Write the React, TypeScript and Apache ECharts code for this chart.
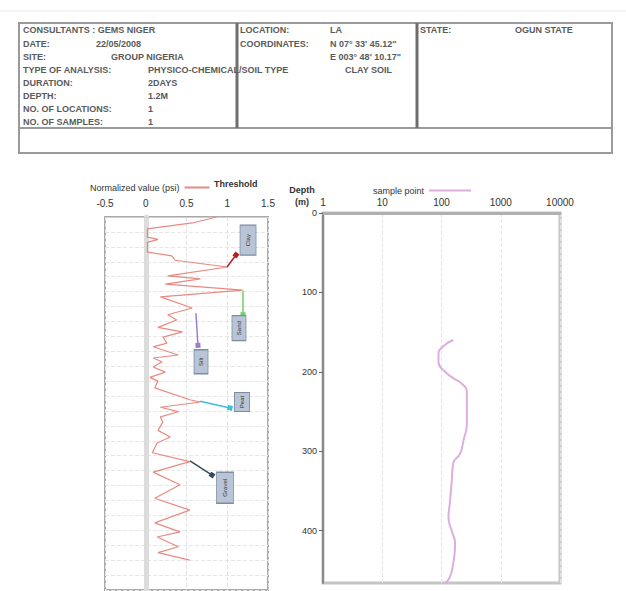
import React, { useEffect, useRef } from "react";
import * as echarts from "echarts";

// ---- left track: normalized signal vs depth ----
const leftValues = [
  0.87, 0.57, 0.02, 0.02, 0.15, 0.02, 0.02, 0.32, 0.36, 1.0, 0.27, 0.67, 0.24, 1.19, 0.18,
  0.57, 0.27, 0.38, 0.15, 0.45, 0.21, 0.26, 0.09, 0.4, 0.09, 0.2, 0.09, 0.24, 0.05, 0.15,
  0.11, 0.54, 0.67, 0.18, 0.4, 0.18, 0.21, 0.15, 0.3, 0.14, 0.08, 0.54, 0.09, 0.42, 0.11,
  0.54, 0.11, 0.42, 0.14, 0.4, 0.15, 0.54,
];
const leftDepths = [
  0.0, 0.08, 0.16, 0.27, 0.3, 0.34, 0.47, 0.52, 0.58, 0.67, 0.79, 0.83, 0.9, 0.98, 1.07,
  1.22, 1.31, 1.38, 1.48, 1.54, 1.61, 1.69, 1.74, 1.85, 1.89, 1.94, 2.01, 2.08, 2.15, 2.2,
  2.29, 2.45, 2.48, 2.55, 2.61, 2.68, 2.75, 2.86, 2.95, 3.03, 3.16, 3.28, 3.42, 3.59, 3.77,
  3.93, 4.1, 4.22, 4.29, 4.42, 4.5, 4.6,
];
const leftTicks = [-0.5, 0, 0.5, 1, 1.5];

// annotations (boxes + arrows) in data coordinates of the left track
const boxLabels = ["Clay", "Sand", "Silt", "Peat", "Gravel"];
const boxValues = [1.255, 1.144, 0.678, 1.181, 0.972];
const boxDepths = [0.31, 1.49, 1.94, 2.48, 3.63];
const arrowFromValues = [0.997, 1.193, 0.616, 0.666, 0.543];
const arrowFromDepths = [0.67, 0.99, 1.29, 2.47, 3.27];
const arrowToValues = [1.107, 1.193, 0.641, 1.034, 0.813];
const arrowToDepths = [0.51, 1.31, 1.72, 2.56, 3.46];

// ---- right track: sample point (log) vs depth ----
const rightValues = [158, 115, 89, 89, 115, 158, 220, 268, 268, 268, 236, 206, 158, 148, 138, 131, 148, 170, 158, 138, 115];
const rightDepths = [160, 166, 177, 188, 200, 208, 215, 225, 244, 265, 286, 303, 315, 340, 366, 383, 400, 416, 441, 459, 466];
const rightTicks = [1, 10, 100, 1000, 10000];
const depthTicks = [0, 100, 200, 300, 400];
const depthAxisTitle = ["Depth", "(m)"];

// ---- header table texts ----
const headerLeftLabels = ["CONSULTANTS : GEMS NIGER", "DATE:", "SITE:", "TYPE OF ANALYSIS:", "DURATION:", "DEPTH:", "NO. OF LOCATIONS:", "NO. OF SAMPLES:"];
const headerLeftValues = ["", "22/05/2008", "GROUP NIGERIA", "PHYSICO-CHEMICAL/SOIL TYPE", "2DAYS", "1.2M", "1", "1"];
const headerMidLabels = ["LOCATION:", "COORDINATES:", "", "", "", "", "", ""];
const headerMidValues = ["LA", "N 07° 33' 45.12\"", "E 003° 48' 10.17\"", "CLAY SOIL", "", "", "", ""];
const headerStateLabel = "STATE:";
const headerStateValue = "OGUN STATE";

// styles
const boxSizes = [[16, 30], [14, 25], [14, 24], [15, 19], [17, 31]];
const arrowColors = ["#b22222", "#6fcf6f", "#9a7fd0", "#3fbfdf", "#34495e"];
const headColors = ["#8b1010", "#4caf50", "#4b2a7a", "#2aa7c9", "#22303f"];

const FONT = "Liberation Sans, Arial, sans-serif";

export default function App() {
  const ref = useRef<HTMLDivElement>(null);
  useEffect(() => {
    const chart = echarts.init(ref.current as HTMLDivElement, null, { renderer: "svg" });

    const rowY = [30, 44, 57, 70, 83, 96, 109, 122];
    const leftValueX = [0, 96, 111, 148, 148, 148, 148, 148];
    const midValueX = [330, 330, 330, 345, 0, 0, 0, 0];
    const txt = (x: number, y: number, text: string) => ({
      type: "text",
      x,
      y,
      style: { text, fill: "#5a5a5a", font: `bold 9px ${FONT}`, textVerticalAlign: "middle" },
      silent: true,
    });
    const tableEls: any[] = [
      { type: "line", shape: { x1: 0, y1: 11, x2: 626, y2: 11 }, style: { stroke: "#e8e8e8", lineWidth: 1 } },
      { type: "rect", shape: { x: 19, y: 23, width: 593, height: 130 }, style: { fill: "none", stroke: "#9a9a9a", lineWidth: 2 } },
      { type: "line", shape: { x1: 19, y1: 128, x2: 612, y2: 128 }, style: { stroke: "#9a9a9a", lineWidth: 2 } },
      { type: "line", shape: { x1: 237, y1: 23, x2: 237, y2: 128 }, style: { stroke: "#6e6e6e", lineWidth: 3 } },
      { type: "line", shape: { x1: 417, y1: 23, x2: 417, y2: 128 }, style: { stroke: "#6e6e6e", lineWidth: 3 } },
    ];
    headerLeftLabels.forEach((t, i) => {
      tableEls.push(txt(23, rowY[i], t));
      if (headerLeftValues[i]) tableEls.push(txt(leftValueX[i], rowY[i], headerLeftValues[i]));
      if (headerMidLabels[i]) tableEls.push(txt(240, rowY[i], headerMidLabels[i]));
      if (headerMidValues[i]) tableEls.push(txt(midValueX[i], rowY[i], headerMidValues[i]));
    });
    tableEls.push(txt(420, rowY[0], headerStateLabel));
    tableEls.push(txt(515, rowY[0], headerStateValue));
    depthAxisTitle.forEach((t, i) => {
      tableEls.push({
        type: "text",
        x: 302,
        y: 190 + i * 12,
        style: { text: t, fill: "#333", font: `bold 9px ${FONT}`, textAlign: "center", textVerticalAlign: "middle" },
        silent: true,
      });
    });

    const leftData = leftValues.map((v, i) => [v, leftDepths[i]]);
    const rightData = rightValues.map((v, i) => [v, rightDepths[i]]);

    const markLineData = arrowFromValues.map((v, i) => [
      { coord: [v, arrowFromDepths[i]], lineStyle: { color: arrowColors[i], width: 1.5, type: "solid" }, itemStyle: { color: headColors[i] } },
      { coord: [arrowToValues[i], arrowToDepths[i]], itemStyle: { color: headColors[i] } },
    ]);
    const markPointData = boxLabels.map((l, i) => ({
      name: l,
      coord: [boxValues[i], boxDepths[i]],
      symbol: "rect",
      symbolSize: boxSizes[i],
      itemStyle: { color: "#b9c5d6", borderColor: "#7d8ca3", borderWidth: 1 },
      label: { show: true, formatter: l, rotate: 90, fontSize: 6, color: "#333", fontFamily: FONT, position: "inside" },
    }));

    chart.setOption({
      animation: false,
      backgroundColor: "#fff",
      textStyle: { fontFamily: FONT },
      title: {
        text: "Threshold",
        left: 209,
        top: 174,
        textStyle: { fontSize: 9, fontWeight: "bold", color: "#333", fontFamily: FONT },
      },
      legend: [
        {
          data: [{ name: "Normalized value (psi)", icon: "rect" }],
          left: 85,
          top: 178,
          align: "right",
          itemWidth: 25,
          itemHeight: 2,
          itemGap: 2,
          textStyle: { fontSize: 9, color: "#333" },
        },
        {
          data: [{ name: "sample point", icon: "rect" }],
          left: 368,
          top: 181,
          align: "right",
          itemWidth: 42,
          itemHeight: 2,
          textStyle: { fontSize: 9, color: "#333" },
        },
      ],
      grid: [
        { left: 105, top: 217, width: 163, height: 373, show: true, borderColor: "#aaaaaa", borderWidth: 2, backgroundColor: "#fff" },
        { left: 323, top: 213, width: 237, height: 370, show: true, borderColor: "#c4c4c4", borderWidth: 3, backgroundColor: "#fff" },
      ],
      xAxis: [
        {
          gridIndex: 0,
          type: "value",
          position: "top",
          min: leftTicks[0],
          max: leftTicks[leftTicks.length - 1],
          interval: 0.5,
          axisLine: { show: true, lineStyle: { color: "#d0d0d0", width: 1 } },
          axisTick: { show: false },
          axisLabel: { fontSize: 10, color: "#333", margin: 9 },
          splitLine: { show: true, lineStyle: { color: "#e2e2e2", type: "dashed" } },
        },
        {
          gridIndex: 1,
          type: "log",
          logBase: 10,
          position: "top",
          min: rightTicks[0],
          max: rightTicks[rightTicks.length - 1],
          axisLine: { show: true, lineStyle: { color: "#b0b0b0", width: 3 } },
          axisTick: { show: false },
          axisLabel: { fontSize: 10, color: "#333", margin: 6, formatter: (v: number) => String(Math.round(v)) },
          splitLine: { show: true, lineStyle: { color: "#e4e4e4", type: "dashed" } },
        },
      ],
      yAxis: [
        {
          gridIndex: 0,
          type: "value",
          inverse: true,
          min: 0,
          max: 5,
          interval: 0.2,
          axisLine: { show: true, onZero: true, lineStyle: { color: "#dcdcdc", width: 5 } },
          axisTick: { show: false },
          axisLabel: { show: false },
          splitLine: { show: true, lineStyle: { color: "#e6e6e6", type: "dashed" } },
        },
        {
          gridIndex: 1,
          type: "value",
          inverse: true,
          min: depthTicks[0],
          max: 466,
          interval: 100,
          axisLine: { show: true, lineStyle: { color: "#8a8a8a", width: 2 } },
          axisTick: { show: true, inside: false, length: 4, lineStyle: { color: "#666" } },
          axisLabel: { fontSize: 9, color: "#333", margin: 6, showMaxLabel: false },
          splitLine: { show: false },
        },
      ],
      series: [
        {
          name: "Normalized value (psi)",
          type: "line",
          xAxisIndex: 0,
          yAxisIndex: 0,
          data: leftData,
          showSymbol: false,
          symbol: "none",
          color: "#e98a80",
          lineStyle: { color: "#e98a80", width: 1.2 },
          markLine: {
            silent: true,
            symbol: ["none", "rect"],
            symbolSize: 5,
            label: { show: false },
            data: markLineData,
          },
          markPoint: {
            silent: true,
            data: markPointData,
          },
        },
        {
          name: "sample point",
          type: "line",
          xAxisIndex: 1,
          yAxisIndex: 1,
          data: rightData,
          smooth: true,
          showSymbol: false,
          symbol: "none",
          color: "#dcaee0",
          lineStyle: { color: "#dcaee0", width: 2 },
        },
      ],
      graphic: tableEls,
    });
    return () => chart.dispose();
  }, []);
  return (
    <div
      ref={ref}
      style={{ position: "fixed", left: 0, top: 0, width: 626, height: 591, background: "#fff" }}
    />
  );
}
